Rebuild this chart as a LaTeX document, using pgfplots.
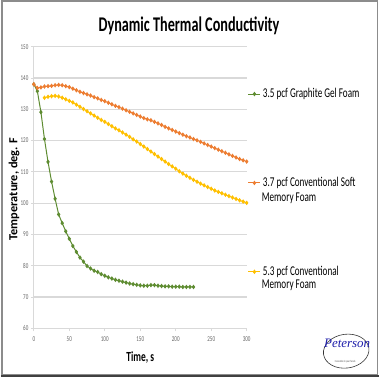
\documentclass[border=0pt]{standalone}
\usepackage{pgfplots}
\pgfplotsset{compat=1.18}
\usepackage{fontspec}
\setmainfont{Carlito}[FakeStretch=0.68]
\newfontfamily\ylabfont{Carlito}
\newfontfamily\logofont{Liberation Serif}
\definecolor{cgreen}{RGB}{94,140,49}
\definecolor{corange}{RGB}{237,125,49}
\definecolor{cyellow}{RGB}{255,192,0}
\definecolor{cgrid}{RGB}{217,217,217}
\definecolor{cblue}{RGB}{30,30,170}
\begin{document}
\begin{tikzpicture}[x=1bp,y=1bp]
\fill[white] (0,0) rectangle (380,380);
\draw[black!45, line width=1.5bp] (1,3) rectangle (378.5,379);
\draw[black!75, line width=2bp] (0,2) -- (380,2);
\begin{axis}[at={(33bp,50bp)}, anchor=south west, scale only axis,
  width=214bp, height=283bp,
  xmin=0, xmax=300, ymin=60, ymax=150,
  xtick={0,50,...,300}, ytick={60,70,...,150},
  axis x line*=bottom, axis y line*=left,
  axis line style={cgrid, line width=0.9bp},
  ymajorgrids, grid style={cgrid, line width=1.1bp},
  tick style={cgrid, line width=0.9bp}, major tick length=3bp, tick align=outside,
  ticklabel style={font=\fontsize{7.5bp}{8bp}\selectfont, text=black!60},
  /pgf/number format/assume math mode=true,
  xticklabel style={yshift=-2bp},
  yticklabel style={xshift=1bp},
  clip=false,
  legend cell align=left,
  legend style={draw=none, fill=none, at={(1.005,0.859)}, anchor=north west,
    font=\fontsize{13.5bp}{16bp}\selectfont, row sep=74.5bp, inner sep=0pt},
  legend image code/.code={%
    \draw[mark repeat=2,mark phase=2,#1] plot coordinates {(0bp,0bp)(6bp,0bp)(12bp,0bp)};},
]
\addplot[cgreen, line width=1bp, mark=diamond*, mark size=1.5bp, mark options={fill=cgreen}] coordinates {
(0,138.0)(5,135.8)(10,129.1)(15,120.5)(20,113.2)(25,106.9)(30,101.4)(35,96.4)(40,93.6)(45,91.0)
(50,88.6)(55,86.3)(60,84.4)(65,82.6)(70,81.3)(75,79.9)(80,79.1)(85,78.4)(90,78.0)(95,77.3)
(100,76.8)(105,76.3)(110,75.9)(115,75.5)(120,75.2)(125,74.9)(130,74.6)(135,74.3)(140,74.1)(145,73.9)
(150,73.7)(155,73.6)(160,73.6)(165,73.8)(170,73.8)(175,73.6)(180,73.5)(185,73.4)(190,73.4)(195,73.3)
(200,73.3)(205,73.3)(210,73.2)(215,73.2)(220,73.2)(225,73.2)};
\addlegendentry{3.5 pcf Graphite Gel Foam}
\addplot[corange, line width=1bp, mark=diamond*, mark size=1.5bp, mark options={fill=corange}] coordinates {
(0,138.0)(5,136.8)(10,137.0)(15,137.3)(20,137.4)(25,137.5)(30,137.7)(35,137.8)(40,137.7)(45,137.4)
(50,137.1)(55,136.6)(60,136.1)(65,135.6)(70,135.2)(75,134.8)(80,134.4)(85,133.9)(90,133.5)(95,133.0)
(100,132.6)(105,132.1)(110,131.6)(115,131.1)(120,130.7)(125,130.2)(130,129.7)(135,129.2)(140,128.7)(145,128.2)
(150,127.7)(155,127.2)(160,126.8)(165,126.5)(170,126.0)(175,125.5)(180,125.0)(185,124.4)(190,123.9)(195,123.4)
(200,122.9)(205,122.4)(210,121.9)(215,121.4)(220,121.0)(225,120.5)(230,120.1)(235,119.6)(240,119.1)(245,118.6)
(250,118.1)(255,117.6)(260,117.1)(265,116.6)(270,116.1)(275,115.6)(280,115.1)(285,114.6)(290,114.1)(295,113.7)(300,113.3)};
\addlegendentry{3.7 pcf Conventional Soft}
\addplot[cyellow, line width=1bp, mark=diamond*, mark size=1.5bp, mark options={fill=cyellow}] coordinates {
(15,133.7)(20,134.0)(25,134.2)(30,134.3)(35,134.1)(40,133.7)(45,133.2)
(50,132.7)(55,132.2)(60,131.5)(65,130.8)(70,130.1)(75,129.4)(80,128.7)(85,128.0)(90,127.3)(95,126.6)
(100,126.0)(105,125.3)(110,124.6)(115,123.9)(120,123.3)(125,122.6)(130,121.9)(135,121.2)(140,120.4)(145,119.7)
(150,118.9)(155,118.1)(160,117.3)(165,116.5)(170,115.7)(175,114.9)(180,114.1)(185,113.3)(190,112.5)(195,111.75)
(200,111.0)(205,110.2)(210,109.45)(215,108.75)(220,108.1)(225,107.45)(230,106.85)(235,106.25)(240,105.7)(245,105.15)
(250,104.6)(255,104.05)(260,103.6)(265,103.15)(270,102.7)(275,102.25)(280,101.8)(285,101.35)(290,100.9)(295,100.5)(300,100.1)};
\addlegendentry{5.3 pcf Conventional}
\end{axis}
\node[anchor=base west, inner sep=0pt, font=\fontsize{13.5bp}{16bp}\selectfont] at (262,177) {Memory Foam};
\node[anchor=base west, inner sep=0pt, font=\fontsize{13.5bp}{16bp}\selectfont] at (262,90) {Memory Foam};
\node[anchor=base, inner sep=0pt, font=\fontsize{21bp}{25bp}\selectfont\bfseries] at (189,348.5) {Dynamic Thermal Conductivity};
\node[anchor=base, inner sep=0pt, font=\fontsize{14bp}{16bp}\selectfont\bfseries] at (140,16.7) {Time, s};
\node[anchor=base, inner sep=0pt, rotate=90, font=\fontsize{12.4bp}{15bp}\ylabfont\bfseries] at (16.5,190) {Temperature, deg. F};
\draw[black!80, line width=0.6bp, rotate around={8:(347,27)}] (347,27) ellipse [x radius=23, y radius=17];
\node[inner sep=0pt, text=cblue, font=\fontsize{13bp}{14bp}\logofont\itshape] at (348,35) {Peterson};
\node[inner sep=0pt, text=black!70, font=\fontsize{3bp}{4bp}\selectfont] at (346,16) {Innovation in your hands};
\end{tikzpicture}
\end{document}
